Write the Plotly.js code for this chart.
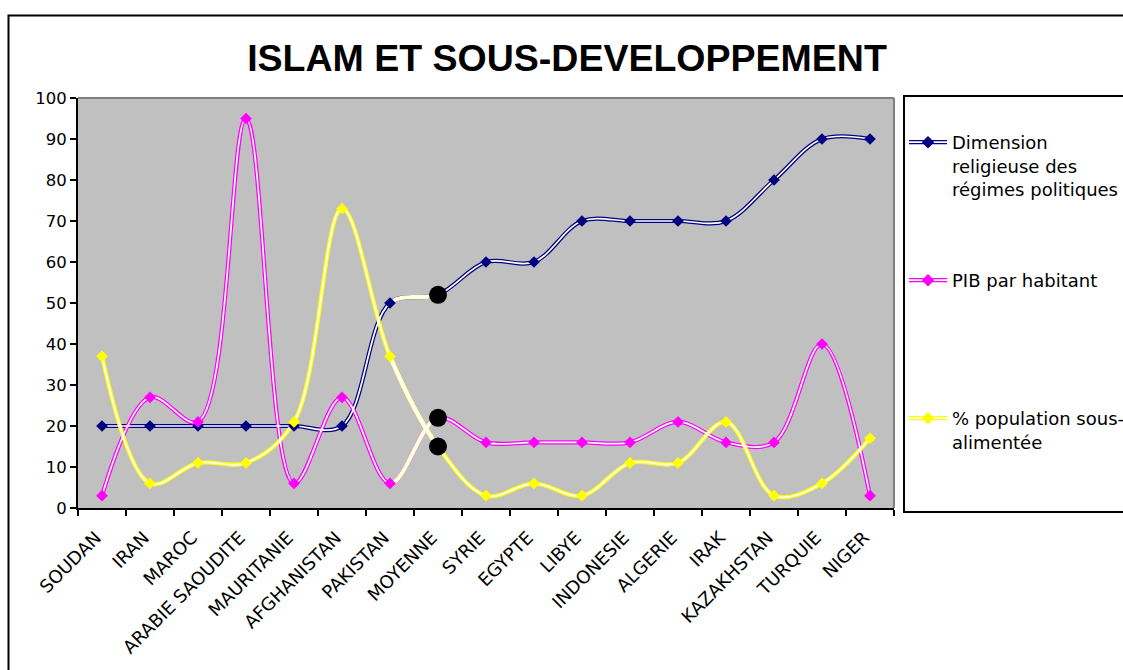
<!DOCTYPE html>
<html><head><meta charset="utf-8">
<script src="https://cdn.plot.ly/plotly-3.0.1.min.js"></script>
<style>html,body{margin:0;padding:0;background:#fff}#chart{width:1123px;height:670px}</style>
</head><body><div id="chart"></div>
<script>
// ---- data ----
const categories = ['SOUDAN','IRAN','MAROC','ARABIE SAOUDITE','MAURITANIE','AFGHANISTAN','PAKISTAN','MOYENNE','SYRIE','EGYPTE','LIBYE','INDONESIE','ALGERIE','IRAK','KAZAKHSTAN','TURQUIE','NIGER'];
const religion = [20,20,20,20,20,20,50,52,60,60,70,70,70,70,80,90,90];
const pib      = [3,27,21,95,6,27,6,22,16,16,16,16,21,16,16,40,3];
const sousAlim = [37,6,11,11,21,73,37,15,3,6,3,11,11,21,3,6,17];
const seriesNames = ['Dimension<br>religieuse des<br>régimes politiques','PIB par habitant','% population sous-<br>alimentée'];
const yTicks = [0,10,20,30,40,50,60,70,80,90,100];
const highlightCategory = 'MOYENNE';

// ---- styles ----
const seriesColors = ['#000080','#FF00FF','#FFFF00'];
const segmentColor = '#FFFFC8';
const W=1123, H=670, L=78, R=894, T=98, B=508;
const pw = R-L, ph = B-T;
const px = v => (v-L)/pw;
const py = v => (B-v)/ph;
const n = categories.length;
const avgIdx = categories.indexOf(highlightCategory);
const seriesValues = [religion, pib, sousAlim];
const legendTops = [124, 262, 400];
const lid = k => k === 0 ? 'legend' : 'legend' + (k+1);
const spl = {shape:'spline', smoothing:1, simplify:false};
const MS = 9;

const traces = [];
// outer coloured line (legend text shown here)
seriesValues.forEach((vals,i)=>{
  traces.push({type:'scatter', mode:'lines', x:categories, y:vals, name:seriesNames[i], legend:lid(i),
    line:Object.assign({color:seriesColors[i], width:4.2}, spl), xaxis:'x', yaxis:'y', hoverinfo:'skip'});
});
// inner light line (double-line look)
seriesValues.forEach((vals,i)=>{
  traces.push({type:'scatter', mode:'lines', x:categories, y:vals, name:seriesNames[i], legend:lid(i+3),
    line:Object.assign({color:'#FFFFFF', width:1.7}, spl), xaxis:'x', yaxis:'y', hoverinfo:'skip'});
});
// pale segment leading into the average point (clipped to that interval)
seriesValues.forEach((vals,i)=>{
  traces.push({type:'scatter', mode:'lines', x:categories, y:vals, showlegend:false,
    line:Object.assign({color:segmentColor, width:4.2}, spl), xaxis:'x2', yaxis:'y2', hoverinfo:'skip'});
});
seriesValues.forEach((vals,i)=>{
  traces.push({type:'scatter', mode:'lines', x:categories, y:vals, showlegend:false,
    line:Object.assign({color:'#FFFFF4', width:1.7}, spl), xaxis:'x2', yaxis:'y2', hoverinfo:'skip'});
});
// markers on top
seriesValues.forEach((vals,i)=>{
  const isAvg = categories.map(c=>c===highlightCategory);
  traces.push({type:'scatter', mode:'markers', x:categories, y:vals, name:seriesNames[i], legend:lid(i+6),
    marker:{symbol:isAvg.map(a=>a?'circle':'diamond'), size:isAvg.map(a=>a?18:MS), opacity:1,
            color:isAvg.map(a=>a?'#000000':seriesColors[i]), line:{width:0}},
    xaxis:'x3', yaxis:'y3', hoverinfo:'skip'});
});

const hidden = {visible:false, fixedrange:true};
const legendBase = (yTop, visibleText)=>({x:904/W, xref:'container', xanchor:'left', y:1-yTop/H, yref:'container', yanchor:'top',
  bgcolor:'rgba(0,0,0,0)', borderwidth:0, valign:'top', itemwidth:38, itemsizing:'trace',
  font:{family:'DejaVu Sans, sans-serif', size:18, color: visibleText ? '#000' : 'rgba(0,0,0,0)'}});

const layout = {
  width:W, height:H, paper_bgcolor:'#FFFFFF', plot_bgcolor:'rgba(0,0,0,0)',
  margin:{l:L, r:W-R, t:T, b:H-B, pad:0},
  title:{text:'ISLAM ET SOUS-DEVELOPPEMENT', x:567/W, xref:'container', xanchor:'center',
    y:1-45/H, yref:'container', yanchor:'top',
    font:{family:'Liberation Sans, Arial, sans-serif', size:37.5, weight:'bold', color:'#000'}},
  showlegend:true,
  xaxis:{type:'category', categoryorder:'array', categoryarray:categories, range:[-0.5,n-0.5], domain:[0,1], anchor:'y',
    showline:true, linecolor:'#000', linewidth:2, ticks:'outside', tickson:'boundaries', ticklen:6, tickwidth:2, tickcolor:'#000',
    tickangle:-45, ticklabelstandoff:10, ticklabelshift:-6, tickfont:{family:'DejaVu Sans, sans-serif', size:18, color:'#000'}, showgrid:false, zeroline:false, fixedrange:true},
  yaxis:{range:[0,100], tickvals:yTicks, ticktext:yTicks.map(String), anchor:'x', domain:[0,1],
    showline:true, linecolor:'#000', linewidth:2, ticks:'outside', ticklen:6, tickwidth:2, tickcolor:'#000',
    tickfont:{family:'DejaVu Sans, sans-serif', size:16.5, color:'#000'}, showgrid:false, zeroline:false, fixedrange:true},
  xaxis2:Object.assign({type:'category', categoryorder:'array', categoryarray:categories,
    domain:[(avgIdx-0.5)/n,(avgIdx+0.5)/n], range:[avgIdx-1, avgIdx], anchor:'y2'}, hidden),
  yaxis2:Object.assign({range:[0,100], domain:[0,1], anchor:'x2'}, hidden),
  xaxis3:Object.assign({type:'category', categoryorder:'array', categoryarray:categories,
    domain:[0,1], range:[-0.5,n-0.5], anchor:'y3'}, hidden),
  yaxis3:Object.assign({range:[0,100], domain:[0,1], anchor:'x3'}, hidden),
  shapes:[
    {type:'rect', xref:'paper', yref:'paper', x0:0, x1:1, y0:0, y1:1, fillcolor:'#C0C0C0', line:{width:0}, layer:'below'},
    {type:'line', xref:'paper', yref:'paper', x0:0, x1:1, y0:1, y1:1, line:{color:'#808080', width:2}, layer:'below'},
    {type:'line', xref:'paper', yref:'paper', x0:1, x1:1, y0:0, y1:1, line:{color:'#808080', width:2}, layer:'below'},
    {type:'rect', xref:'paper', yref:'paper', x0:px(8.5), x1:px(1130), y0:py(676), y1:py(15.5), fillcolor:'rgba(0,0,0,0)', line:{color:'#000', width:2}, layer:'below'},
    {type:'rect', xref:'paper', yref:'paper', x0:px(904), x1:px(1130), y0:py(512), y1:py(96), fillcolor:'rgba(0,0,0,0)', line:{color:'#000', width:2}, layer:'below'}
  ]
};
for (let k=0; k<9; k++) layout[lid(k)] = legendBase(legendTops[k%3], k<3);
Plotly.newPlot('chart', traces, layout, {staticPlot:true, displayModeBar:false});
</script></body></html>
